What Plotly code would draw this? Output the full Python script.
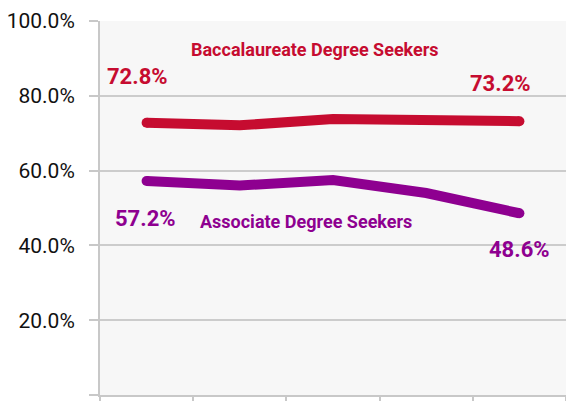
import plotly.graph_objects as go

# Persistence rates by cohort (percent)
cohorts = [0, 1, 2, 3, 4]
baccalaureate = [72.8, 72.1, 73.8, 73.8, 73.2]
associate = [57.2, 56.0, 57.5, 54.0, 48.6]
y_ticks = [0, 20, 40, 60, 80, 100]
y_tick_labels = ["", "20.0%", "40.0%", "60.0%", "80.0%", "100.0%"]

RED = "#C60C30"
PURPLE = "#8E0090"
FONT = "Roboto, sans-serif"

fig = go.Figure()
for vals, color in [(baccalaureate, RED), (associate, PURPLE)]:
    fig.add_trace(go.Scatter(
        x=cohorts, y=vals, mode="lines",
        line=dict(color=color, width=10),
        hoverinfo="skip", showlegend=False,
    ))
    # Round caps at the two ends of each line
    fig.add_trace(go.Scatter(
        x=[cohorts[0], cohorts[-1]], y=[vals[0], vals[-1]], mode="markers",
        marker=dict(color=color, size=10, opacity=1, line=dict(width=0)),
        hoverinfo="skip", showlegend=False,
    ))

def label(x, y, text, color, size, xshift=0, yshift=0):
    fig.add_annotation(x=x, y=y, text=f"<b>{text}</b>", showarrow=False,
                       xshift=xshift, yshift=yshift,
                       font=dict(family=FONT, size=size, color=color))

# Endpoint value labels
label(cohorts[0], baccalaureate[0], f"{baccalaureate[0]:.1f}%", RED, 22, xshift=-9, yshift=46)
label(cohorts[-1], baccalaureate[-1], f"{baccalaureate[-1]:.1f}%", RED, 22, xshift=-19, yshift=38)
label(cohorts[0], associate[0], f"{associate[0]:.1f}%", PURPLE, 22, xshift=-1, yshift=-37)
label(cohorts[-1], associate[-1], f"{associate[-1]:.1f}%", PURPLE, 22, xshift=0, yshift=-36)

# Series names
label(2, 92.5, "Baccalaureate Degree Seekers", RED, 18, xshift=-18)
label(2, 46.5, "Associate Degree Seekers", PURPLE, 18, xshift=-27)

fig.update_layout(
    width=566, height=401,
    margin=dict(l=100, r=0, t=21, b=4),
    paper_bgcolor="white", plot_bgcolor="#F7F7F7",
    font=dict(family=FONT, color="#111111"),
)
fig.update_xaxes(
    range=[-0.5, 4.5], tickvals=[-0.5, 0.5, 1.5, 2.5, 3.5, 4.5],
    showticklabels=False, showgrid=False, zeroline=False,
    showline=True, linecolor="#C8C8C8", linewidth=2,
    ticks="outside", ticklen=6, tickcolor="#C8C8C8", tickwidth=2,
)
fig.update_yaxes(
    range=[0, 100], tickvals=y_ticks, ticktext=y_tick_labels,
    showgrid=True, gridcolor="#CCCCCC", gridwidth=2, zeroline=False,
    showline=True, linecolor="#C8C8C8", linewidth=2,
    ticks="outside", ticklen=9, tickcolor="#C8C8C8", tickwidth=2,
    ticklabelstandoff=10,
    tickfont=dict(family=FONT, size=21, color="#111111"),
)

fig.write_html("out.html")
